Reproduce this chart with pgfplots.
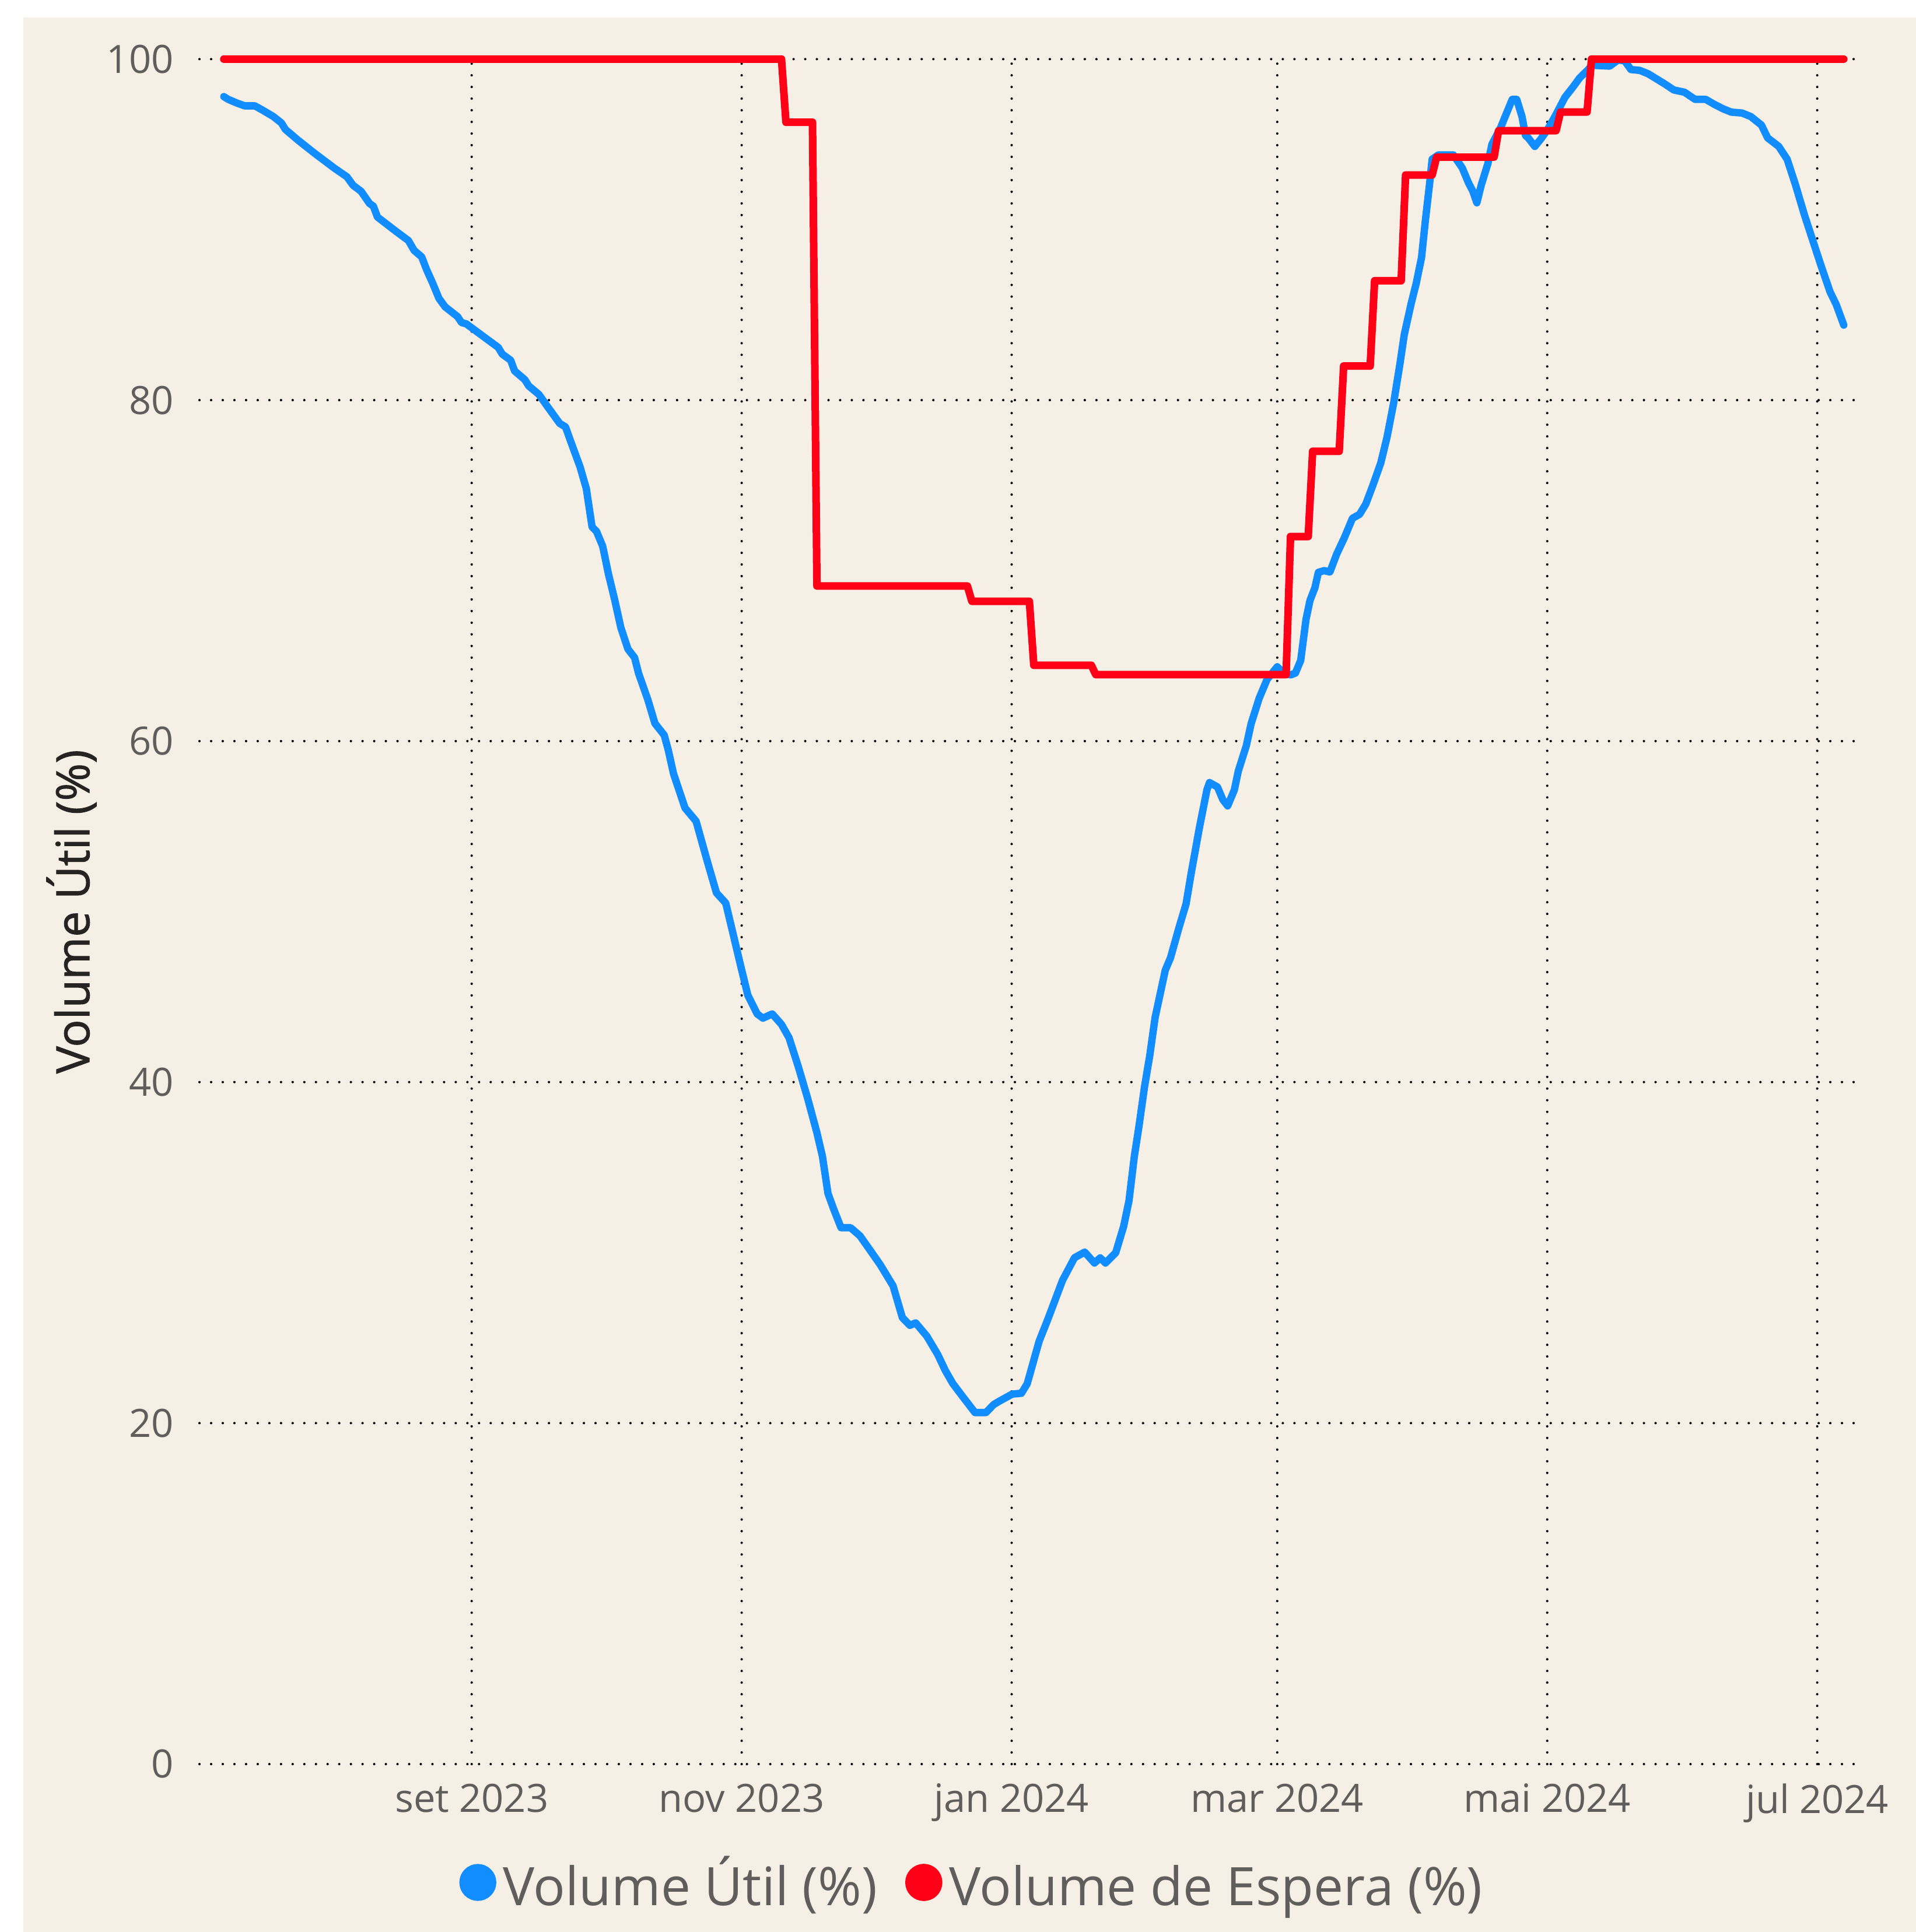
\documentclass[border=0pt]{standalone}
\usepackage{pgfplots}
\pgfplotsset{compat=1.18}
\usepackage{fontspec}
\setmainfont{Open Sans}
\newfontfamily\ylabfont{Open Sans}[FakeBold=1.3]
\definecolor{bgbeige}{HTML}{F6EFE5}
\definecolor{tickgray}{HTML}{605E5C}
\definecolor{labdark}{HTML}{252423}
\definecolor{pbblue}{HTML}{118DFF}
\definecolor{pbred}{HTML}{FF0016}
\begin{document}
\begin{tikzpicture}
\path[use as bounding box, fill=white] (0,0) rectangle (155.5mm,156.83mm);
\fill[bgbeige] (1.9mm,0) rectangle (155.5mm,155.4mm);
\begin{axis}[
  at={(16.19mm,13.63mm)}, anchor=south west,
  scale only axis, width=134.53mm, height=138.4mm,
  xmin=-61.5, xmax=313, ymin=0, ymax=100,
  clip=false,
  axis line style={draw=none},
  tick style={draw=none}, major tick length=0pt,
  grid=major,
  major grid style={black, line width=0.55pt, dash pattern=on 0pt off 2.69pt, line cap=round},
  xtick={0,61,122,182,243,304},
  xticklabels={set 2023,nov 2023,jan 2024,mar 2024,mai 2024,jul 2024},
  ytick={0,20,40,60,80,100},
  yticklabels={0,20,40,60,80,100},
  xticklabel style={font=\fontsize{9}{10}\selectfont, text=tickgray, inner sep=0pt, anchor=north, yshift=-1.53mm},
  yticklabel style={font=\fontsize{9}{10}\selectfont, text=tickgray, inner sep=0pt, anchor=east, xshift=-2.04mm},
  ylabel={Volume Útil (\%)},
  every axis y label/.style={at={(axis description cs:-0.0665,0.5)}, rotate=90, anchor=base, font=\ylabfont\fontsize{10.6}{12}\selectfont, text=labdark, inner sep=0pt},
  legend columns=2,
  legend style={draw=none, fill=none, at={(0.4675,-0.0705)}, anchor=center,
    font=\fontsize{12.25}{14}\selectfont, text=tickgray,
    nodes={inner xsep=0.55mm, inner ysep=0pt},
    /tikz/every even column/.append style={column sep=1.7mm}},
  legend image code/.code={\fill[#1] (1.2mm,0.15mm) circle (1.2mm);},
]
\addplot[pbblue, line width=1.7pt, line join=round, line cap=round] coordinates {
(-56,97.8)(-55.0,97.64)(-53.2,97.44)(-51.3,97.26)(-49.0,97.26)(-47.2,97.0)(-44.8,96.63)(-43.0,96.26)(-42.1,95.88)(-39.3,95.26)(-35.6,94.5)(-31.0,93.6)(-28.2,93.1)(-26.8,92.6)(-25.0,92.25)(-23.1,91.54)(-22.2,91.37)(-21.3,90.74)(-17.1,89.9)(-14.3,89.36)(-13.0,88.78)(-11.3,88.4)(-10.2,87.66)(-8.8,86.85)(-7.4,85.97)(-6.0,85.47)(-3.2,84.9)(-2.3,84.55)(-1.2,84.47)(1.4,83.97)(6.0,83.09)(6.9,82.7)(8.8,82.34)(9.7,81.71)(12.0,81.2)(12.9,80.83)(15.2,80.33)(17.1,79.63)(19.9,78.63)(21.2,78.43)(22.2,77.7)(24.5,76.07)(25.9,74.81)(27.2,72.56)(28.2,72.3)(29.6,71.43)(30.9,69.8)(32.3,68.3)(33.7,66.66)
(35.3,65.4)(36.8,64.9)(37.7,63.98)(39.8,62.43)(41.4,61.04)(43.5,60.35)(44.4,59.49)(45.6,58.09)(48.2,56.08)(50.7,55.3)(53.2,52.98)(55.3,51.1)(57.4,50.5)(59.1,48.65)(60.8,46.79)(62.4,45.09)(64.5,44.0)(65.8,43.75)(67.9,44.0)(70.0,43.38)(71.7,42.6)(73.8,40.9)(75.9,39.05)(78.0,37.03)(79.25,35.64)(80.5,33.47)(81.8,32.54)(83.45,31.46)(85.6,31.46)(87.7,30.99)(89.8,30.22)(92.3,29.29)(95.2,28.05)(97.3,26.19)(99.0,25.73)(100.3,25.88)(102.8,25.11)(105.3,24.02)(107.0,23.09)(108.7,22.32)(110.8,21.6)(113.7,20.62)(116.2,20.62)(117.9,21.08)(119.1,21.27)(122.1,21.7)(124.2,21.75)(125.5,22.3)(128.2,24.8)(130.1,26.04)(133.5,28.38)(136.2,29.7)(138.5,30.03)(140.7,29.39)(142.0,29.69)(143.2,29.39)(145.5,29.99)(147.3,31.54)(148.5,33.03)(149.7,35.62)(150.8,37.48)(152.0,39.7)(153.2,41.56)(154.4,43.78)(156.7,46.56)(157.9,47.3)(159.7,48.97)(161.4,50.45)(162.6,52.31)(164.4,54.9)(166.1,57.13)(166.7,57.57)(168.5,57.31)(169.7,56.57)(170.8,56.2)(172.3,57.13)(173.2,58.24)(175.0,59.72)(176.1,61.02)(177.9,62.5)(179.7,63.62)(182.0,64.36)(183.2,64.06)(185.0,63.88)(186.1,63.99)(187.3,64.73)(188.5,67.14)(189.4,68.25)(190.5,68.99)(191.3,69.9)(192.6,70.0)(193.9,69.92)(195.4,70.95)(197.2,71.95)(199.0,73.07)(200.6,73.3)(202.0,73.9)(203.6,75.0)(205.4,76.32)(206.8,77.82)(208.3,79.83)(209.7,82.09)(210.7,83.84)(212.2,85.6)(213.4,86.85)(214.6,88.36)(215.5,90.61)(216.5,92.87)(217.0,94.13)(218.4,94.38)(221.8,94.38)(223.8,93.62)(225.2,92.75)(226.2,92.25)(227.1,91.57)(228.1,92.62)(229.6,93.88)(230.5,95.0)(232.5,96.0)(233.9,96.89)(235.1,97.64)(236.1,97.64)(237.3,96.63)(238.1,95.51)(238.7,95.38)(240.2,94.88)(241.6,95.33)(243.1,95.88)(245.0,96.76)(247.0,97.76)(248.9,98.39)(250.3,98.89)(251.8,99.27)(253.2,99.64)(257.1,99.59)(259.0,99.95)(260.5,99.9)(261.9,99.39)(263.9,99.34)(265.8,99.14)(267.7,98.84)(269.7,98.52)(271.6,98.19)(274.0,98.06)(276.4,97.64)(278.8,97.64)(280.8,97.34)(282.7,97.09)(284.6,96.89)(287.0,96.84)(289.0,96.63)(291.4,96.13)(292.8,95.38)(295.3,94.88)(297.2,94.13)(299.1,92.62)(301.1,90.87)(303.0,89.36)(304.9,87.86)(306.9,86.35)(308.3,85.6)(310.0,84.4)
};
\addlegendentry{Volume Útil (\%)}
\addplot[pbred, line width=1.75pt, line join=round, line cap=round] coordinates {
(-56,100)(70,100)(71,96.3)(77,96.3)(78,69.1)(112,69.1)(113,68.2)(126,68.2)(127,64.45)(140,64.45)(141,63.9)(184,63.9)(185,72.0)(189,72.0)(190,77.0)(196,77.0)(197,82.0)(203,82.0)(204,87.0)(210,87.0)(211,93.2)(217,93.2)(218,94.25)(231,94.25)(232,95.8)(245,95.8)(246,96.9)(252,96.9)(253,100)(310,100)
};
\addlegendentry{\vphantom{Ú}Volume de Espera (\%)}
\end{axis}
\end{tikzpicture}
\end{document}
